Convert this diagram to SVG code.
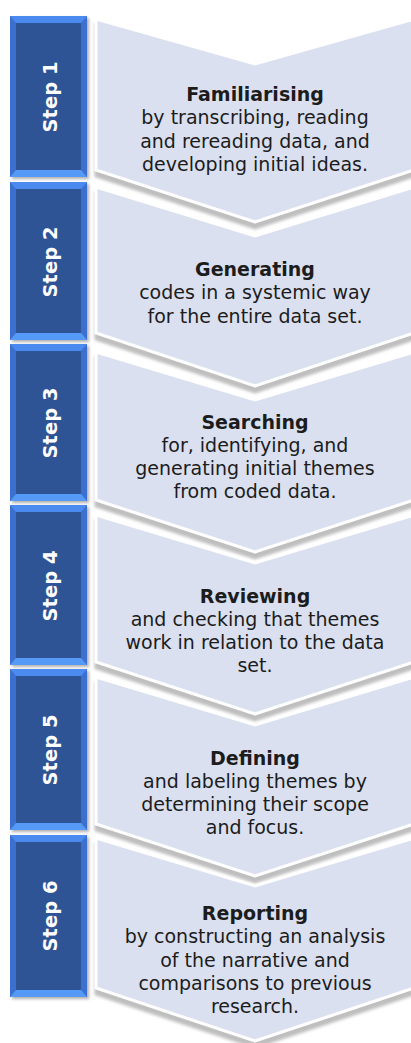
<svg xmlns="http://www.w3.org/2000/svg" width="411" height="1043" viewBox="0 0 411 1043">
<style>
.chev{fill:#dae0f0;stroke:#ffffff;stroke-width:3;stroke-linejoin:miter;filter:url(#sh)}
.side{fill:#3b70d0}
.bt{fill:#4b8aee}
.bb{fill:#559af6}
.inner{fill:#2e5496}
.boxsh{filter:url(#bsh)}
.lbl{font-family:"DejaVu Sans","Verdana",sans-serif;font-weight:bold;font-size:19.5px;fill:#ffffff;text-anchor:middle}
.ttl{font-family:"DejaVu Sans","Verdana",sans-serif;font-weight:bold;font-size:19px;fill:#1c1c1c;text-anchor:middle}
.txt{font-family:"DejaVu Sans","Verdana",sans-serif;font-size:19px;fill:#1c1c1c;text-anchor:middle}
</style>
<defs>
<filter id="sh" x="-10%" y="-10%" width="120%" height="130%">
<feGaussianBlur in="SourceAlpha" stdDeviation="1.6"/>
<feOffset dx="0" dy="6" result="o"/>
<feFlood flood-color="#8a8a8a" flood-opacity="0.55"/>
<feComposite in2="o" operator="in" result="s"/>
<feMerge><feMergeNode in="s"/><feMergeNode in="SourceGraphic"/></feMerge>
</filter>
<filter id="bsh" x="-20%" y="-10%" width="140%" height="120%">
<feGaussianBlur in="SourceAlpha" stdDeviation="1.5"/>
<feOffset dx="2" dy="2" result="o"/>
<feFlood flood-color="#7a7a7a" flood-opacity="0.6"/>
<feComposite in2="o" operator="in" result="s"/>
<feMerge><feMergeNode in="s"/><feMergeNode in="SourceGraphic"/></feMerge>
</filter>
</defs>
<rect x="0" y="0" width="411" height="1043" fill="#ffffff"/>

<g id="step1">
<polygon class="chev" points="96,19 255,64 414,19 414,170 255,222 96,170"/>
<g class="boxsh"><rect class="side" x="10" y="16" width="77" height="161"/></g>
<polygon class="bt" points="10,16 87,16 81,23 16,23"/>
<polygon class="bb" points="10,177 87,177 81,170 16,170"/>
<rect class="inner" x="16" y="23" width="65" height="147"/>
<text class="lbl" transform="translate(57,97) rotate(-90)" x="0" y="0">Step 1</text>
<text class="ttl" x="255" y="101">Familiarising</text>
<text class="txt" x="255" y="124">by transcribing, reading</text>
<text class="txt" x="255" y="148">and rereading data, and</text>
<text class="txt" x="255" y="171">developing initial ideas.</text>
</g>

<g id="step2">
<polygon class="chev" points="96,187 255,236 414,187 414,333 255,386 96,333"/>
<g class="boxsh"><rect class="side" x="10" y="182" width="77" height="158"/></g>
<polygon class="bt" points="10,182 87,182 81,189 16,189"/>
<polygon class="bb" points="10,340 87,340 81,333 16,333"/>
<rect class="inner" x="16" y="189" width="65" height="144"/>
<text class="lbl" transform="translate(57,262) rotate(-90)" x="0" y="0">Step 2</text>
<text class="ttl" x="255" y="276">Generating</text>
<text class="txt" x="255" y="299">codes in a systemic way</text>
<text class="txt" x="255" y="323">for the entire data set.</text>
</g>

<g id="step3">
<polygon class="chev" points="96,352 255,400 414,352 414,500 255,552 96,500"/>
<g class="boxsh"><rect class="side" x="10" y="344" width="77" height="157"/></g>
<polygon class="bt" points="10,344 87,344 81,351 16,351"/>
<polygon class="bb" points="10,501 87,501 81,494 16,494"/>
<rect class="inner" x="16" y="351" width="65" height="143"/>
<text class="lbl" transform="translate(57,423) rotate(-90)" x="0" y="0">Step 3</text>
<text class="ttl" x="255" y="429">Searching</text>
<text class="txt" x="255" y="452">for, identifying, and</text>
<text class="txt" x="255" y="475">generating initial themes</text>
<text class="txt" x="255" y="498">from coded data.</text>
</g>

<g id="step4">
<polygon class="chev" points="96,515 255,563 414,515 414,662 255,714 96,662"/>
<g class="boxsh"><rect class="side" x="10" y="505" width="77" height="160"/></g>
<polygon class="bt" points="10,505 87,505 81,512 16,512"/>
<polygon class="bb" points="10,665 87,665 81,658 16,658"/>
<rect class="inner" x="16" y="512" width="65" height="146"/>
<text class="lbl" transform="translate(57,586) rotate(-90)" x="0" y="0">Step 4</text>
<text class="ttl" x="255" y="603">Reviewing</text>
<text class="txt" x="255" y="626">and checking that themes</text>
<text class="txt" x="255" y="649">work in relation to the data</text>
<text class="txt" x="255" y="672">set.</text>
</g>

<g id="step5">
<polygon class="chev" points="96,677 255,725 414,677 414,824 255,876 96,824"/>
<g class="boxsh"><rect class="side" x="10" y="669" width="77" height="161"/></g>
<polygon class="bt" points="10,669 87,669 81,676 16,676"/>
<polygon class="bb" points="10,830 87,830 81,823 16,823"/>
<rect class="inner" x="16" y="676" width="65" height="147"/>
<text class="lbl" transform="translate(57,750) rotate(-90)" x="0" y="0">Step 5</text>
<text class="ttl" x="255" y="765">Defining</text>
<text class="txt" x="255" y="788">and labeling themes by</text>
<text class="txt" x="255" y="811">determining their scope</text>
<text class="txt" x="255" y="834">and focus.</text>
</g>

<g id="step6">
<polygon class="chev" points="96,838 255,886 414,838 414,988 255,1041 96,988"/>
<g class="boxsh"><rect class="side" x="10" y="835" width="77" height="162"/></g>
<polygon class="bt" points="10,835 87,835 81,842 16,842"/>
<polygon class="bb" points="10,997 87,997 81,990 16,990"/>
<rect class="inner" x="16" y="842" width="65" height="148"/>
<text class="lbl" transform="translate(57,916) rotate(-90)" x="0" y="0">Step 6</text>
<text class="ttl" x="255" y="920">Reporting</text>
<text class="txt" x="255" y="943">by constructing an analysis</text>
<text class="txt" x="255" y="967">of the narrative and</text>
<text class="txt" x="255" y="990">comparisons to previous</text>
<text class="txt" x="255" y="1013">research.</text>
</g>
</svg>
